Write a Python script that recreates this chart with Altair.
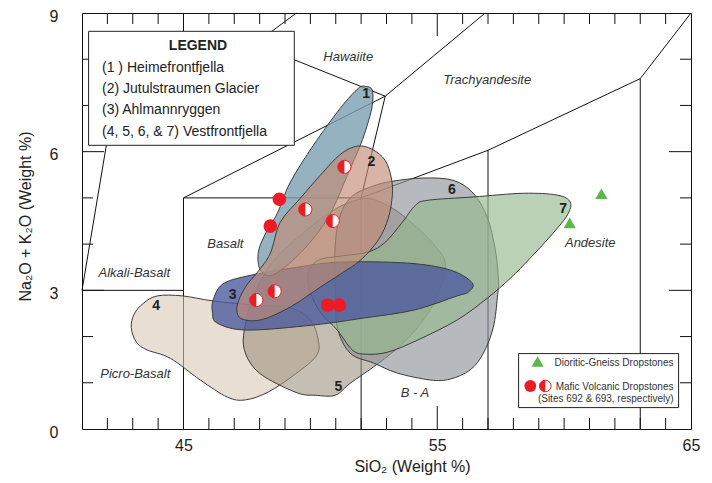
import altair as alt
import pandas as pd

FONT = "Liberation Sans"
W, H = 609, 416

# ---------------- data ----------------
# classification field boundaries (SiO2, Na2O+K2O)
seg_ids = ["A", "A", "B", "B", "C", "C", "D", "D", "E", "E", "F", "F", "G", "G",
           "H", "H", "I", "I", "J", "J", "K", "K", "K", "K", "L", "L", "M", "M"]
seg_x = [41, 45, 41, 42.07, 45, 45, 45, 52, 45, 52.95, 48.95, 52.95, 48.3, 49.45,
         52, 52.95, 52.95, 56.89, 52, 52, 52, 57, 63, 65, 57, 57, 63, 63]
seg_y = [3, 3, 3, 6.5, 0, 5, 5, 5, 5, 7.2, 8.08, 7.2, 8.53, 9.0,
         5, 7.2, 7.2, 9.0, 0, 5, 5, 6.03, 7.58, 9.0, 0, 6.03, 0, 7.58]

# field outlines (1..7)
shape1_x = [52.20, 52.44, 52.44, 52.24, 51.97, 51.46, 50.90, 50.31, 49.41, 48.50, 48.03, 47.95, 48.26, 48.70, 49.21, 50.12, 51.18, 51.89]
shape1_y = [7.41, 7.33, 7.00, 6.57, 6.14, 5.49, 4.78, 4.26, 3.70, 3.33, 3.44, 3.83, 4.26, 4.67, 5.34, 6.14, 6.94, 7.37]
shape2_x = [51.85, 52.44, 52.95, 53.19, 53.23, 53.07, 52.68, 51.97, 51.18, 50.39, 49.21, 48.03, 47.24, 47.12, 47.44, 47.91, 48.42, 48.81, 49.60, 50.39, 51.18]
shape2_y = [6.12, 6.05, 5.81, 5.43, 5.06, 4.56, 4.09, 3.65, 3.35, 3.07, 2.64, 2.36, 2.40, 2.68, 3.07, 3.39, 3.80, 4.47, 4.99, 5.49, 5.94]
shape3_x = [46.17, 46.53, 47.51, 49.49, 51.18, 53.82, 55.51, 56.38, 56.22, 55.79, 54.06, 52.09, 50.12, 47.51, 46.33, 46.14]
shape3_y = [2.79, 3.13, 3.31, 3.50, 3.61, 3.59, 3.44, 3.16, 2.96, 2.88, 2.57, 2.40, 2.25, 2.14, 2.29, 2.53]
shape4_x = [43.97, 44.95, 46.17, 47.83, 49.21, 50.00, 50.31, 50.23, 49.41, 48.34, 47.44, 46.73, 45.66, 44.48, 43.57, 43.14, 42.94, 43.06, 43.42]
shape4_y = [2.88, 2.88, 2.77, 2.68, 2.62, 2.36, 1.92, 1.58, 1.19, 0.80, 0.63, 0.69, 1.06, 1.53, 1.71, 1.88, 2.20, 2.49, 2.72]
shape5_x = [52.28, 52.95, 53.62, 54.53, 55.20, 55.32, 55.16, 54.84, 54.14, 53.35, 52.48, 51.57, 50.98, 50.19, 49.49, 48.22, 47.63, 47.36, 47.44, 47.71, 48.42, 49.60, 50.79, 51.57]
shape5_y = [4.99, 4.86, 4.63, 4.19, 3.76, 3.48, 3.11, 2.68, 2.14, 1.71, 1.34, 0.99, 0.73, 0.73, 0.78, 1.12, 1.43, 1.82, 2.25, 2.79, 3.55, 4.19, 4.69, 4.91]
shape6_x = [53.23, 52.44, 51.65, 51.18, 50.98, 50.98, 51.06, 51.57, 52.48, 53.43, 54.73, 55.51, 56.30, 56.82, 57.21, 57.37, 57.41, 57.29, 56.97, 56.42, 55.63, 54.45]
shape6_y = [5.36, 5.25, 5.04, 4.63, 3.98, 3.00, 2.20, 1.64, 1.43, 1.21, 1.06, 1.08, 1.28, 1.64, 2.20, 2.85, 3.22, 3.87, 4.58, 5.10, 5.38, 5.43]
shape7_x = [60.24, 59.73, 58.39, 56.42, 54.65, 54.14, 53.62, 52.95, 52.28, 51.18, 50.31, 49.92, 50.00, 50.39, 51.06, 51.65, 52.16, 53.03, 54.21, 55.79, 56.97, 57.88, 58.67, 59.57, 60.13]
shape7_y = [4.91, 5.06, 5.10, 5.02, 4.95, 4.84, 4.47, 4.04, 3.83, 3.74, 3.65, 3.39, 2.96, 2.53, 2.14, 1.71, 1.62, 1.66, 1.92, 2.36, 2.83, 3.26, 3.70, 4.24, 4.63]

# samples
site692_x = [48.78, 48.42, 50.68, 51.14]
site692_y = [4.97, 4.39, 2.68, 2.68]
site693_x = [51.34, 49.80, 50.88, 47.87, 48.59]
site693_y = [5.67, 4.75, 4.50, 2.79, 2.98]
gneiss_x = [61.47, 60.22]
gneiss_y = [5.09, 4.46]

# labels
field_names = ["Hawaiite", "Trachyandesite", "Basalt", "Alkali-Basalt", "Picro-Basalt", "B - A", "Andesite"]
field_name_x = [51.49, 56.97, 46.65, 43.06, 43.10, 54.12, 61.03]
field_name_y = [8.04, 7.54, 4.01, 3.37, 1.20, 0.77, 4.03]
num_labels = ["1", "2", "3", "4", "5", "6", "7"]
num_x = [52.20, 52.40, 46.94, 43.92, 51.10, 55.58, 59.96]
num_y = [7.24, 5.78, 2.90, 2.66, 0.91, 5.17, 4.77]

legend_title = "LEGEND"
legend_entries = ["(1 ) Heimefrontfjella", "(2) Jutulstraumen Glacier", "(3) Ahlmannryggen", "(4, 5, 6, & 7) Vestfrontfjella"]

x_tick_labels = [45, 55, 65]
y_tick_labels = [0, 3, 6, 9]
x_minor = [v for v in range(42, 65) if v not in (45, 55)]
x_major = [45, 55]
y_minor = [1, 2, 4, 5, 7, 8]
y_major = [3, 6]

# ---------------- chart ----------------
xs = alt.Scale(domain=[41, 65], nice=False, zero=False)
ys = alt.Scale(domain=[0, 9], nice=False, zero=False)

x_axis = alt.Axis(values=x_tick_labels, ticks=False, tickSize=0, domain=False, grid=False,
                  labelFont=FONT, labelFontSize=16, labelColor="#222", labelPadding=8,
                  labelFlush=False, title="SiO₂ (Weight %)", titleFont=FONT, titleFontSize=16,
                  titleFontWeight="normal", titleColor="#222", titleX=330, titleY=42,
                  titleBaseline="alphabetic", titleAlign="center")
y_axis = alt.Axis(values=y_tick_labels, ticks=False, tickSize=0, domain=False, grid=False,
                  labelFont=FONT, labelFontSize=16, labelColor="#222", labelPadding=24,
                  labelOffset=3, labelFlush=False, title="Na₂O + K₂O (Weight %)",
                  titleFont=FONT, titleFontSize=16, titleFontWeight="normal", titleColor="#222",
                  titleX=-52, titleY=203, titleAngle=270, titleBaseline="alphabetic",
                  titleAlign="center")

X = lambda f: alt.X(f, scale=xs, axis=x_axis)
Y = lambda f: alt.Y(f, scale=ys, axis=y_axis)

layers = []

seg_df = pd.DataFrame({"seg": seg_ids, "x": seg_x, "y": seg_y})
seg_df["i"] = range(len(seg_df))
layers.append(
    alt.Chart(seg_df).mark_line(color="#111", strokeWidth=1).encode(
        x=X("x:Q"), y=Y("y:Q"), detail="seg:N", order="i:Q")
)


def field(xv, yv, fill, op):
    df = pd.DataFrame({"x": xv, "y": yv})
    df["i"] = range(len(df))
    return alt.Chart(df).mark_line(
        fill=fill, fillOpacity=op, stroke="#3c3c3c", strokeWidth=1,
        interpolate="cardinal-closed").encode(x=X("x:Q"), y=Y("y:Q"), order="i:Q")


layers.append(field(shape4_x, shape4_y, "#d8c8b3", 0.6))
layers.append(field(shape5_x, shape5_y, "#9e927f", 0.6))
layers.append(field(shape6_x, shape6_y, "#8f9499", 0.65))
layers.append(field(shape7_x, shape7_y, "#97b98f", 0.65))
layers.append(field(shape3_x, shape3_y, "#4d5b9e", 0.8))
layers.append(field(shape1_x, shape1_y, "#7a9fb0", 0.8))
layers.append(field(shape2_x, shape2_y, "#c18c77", 0.65))


# tick marks (inside the frame)
def ticks_x(vals, length):
    df = pd.DataFrame({"v": vals})
    b = alt.Chart(df).mark_rule(color="#111", strokeWidth=1)
    return [b.encode(x=X("v:Q"), y=alt.value(H), y2=alt.value(H - length)),
            b.encode(x=X("v:Q"), y=alt.value(0), y2=alt.value(length))]


def ticks_y(vals, length):
    df = pd.DataFrame({"v": vals})
    b = alt.Chart(df).mark_rule(color="#111", strokeWidth=1)
    return [b.encode(y=Y("v:Q"), x=alt.value(0), x2=alt.value(length)),
            b.encode(y=Y("v:Q"), x=alt.value(W), x2=alt.value(W - length))]


layers += ticks_x(x_minor, 11) + ticks_x(x_major, 23) + ticks_y(y_minor, 11) + ticks_y(y_major, 22)

# field names and field numbers
fn_df = pd.DataFrame({"x": field_name_x, "y": field_name_y, "t": field_names})
layers.append(alt.Chart(fn_df).mark_text(font=FONT, fontSize=13, fontStyle="italic", color="#333").encode(
    x=X("x:Q"), y=Y("y:Q"), text="t:N"))
nn_df = pd.DataFrame({"x": num_x, "y": num_y, "t": num_labels})
layers.append(alt.Chart(nn_df).mark_text(font=FONT, fontSize=14, fontWeight="bold", color="#222").encode(
    x=X("x:Q"), y=Y("y:Q"), text="t:N"))

# sample points
HALF = "M0,-1A1,1,0,0,0,0,1Z"
s692 = pd.DataFrame({"x": site692_x, "y": site692_y})
s693 = pd.DataFrame({"x": site693_x, "y": site693_y})
gn = pd.DataFrame({"x": gneiss_x, "y": gneiss_y})
layers.append(alt.Chart(s692).mark_point(shape="circle", filled=True, fill="#ec1c24", opacity=1, size=185, strokeWidth=0).encode(x=X("x:Q"), y=Y("y:Q")))
layers.append(alt.Chart(s693).mark_point(shape="circle", filled=True, fill="white", stroke="#ec1c24", strokeWidth=1, opacity=1, size=175).encode(x=X("x:Q"), y=Y("y:Q")))
layers.append(alt.Chart(s693).mark_point(shape=HALF, filled=True, fill="#ec1c24", opacity=1, size=175, strokeWidth=0).encode(x=X("x:Q"), y=Y("y:Q")))
layers.append(alt.Chart(gn).mark_point(shape="triangle-up", filled=True, fill="#5cb848", opacity=1, size=150, strokeWidth=0).encode(x=X("x:Q"), y=Y("y:Q")))

# top-left legend box
one = pd.DataFrame({"d": [0]})
layers.append(alt.Chart(one).mark_rect(fill="white", stroke="#222", strokeWidth=1).encode(
    x=alt.value(6.6), x2=alt.value(212.3), y=alt.value(18.3), y2=alt.value(132.3)))
layers.append(alt.Chart(one).mark_text(text=legend_title, font=FONT, fontSize=14, fontWeight="bold",
                                       color="#222", align="center", baseline="middle").encode(
    x=alt.value(116), y=alt.value(33)))
for k, t in enumerate(legend_entries):
    layers.append(alt.Chart(one).mark_text(text=t, font=FONT, fontSize=14, color="#222",
                                           align="left", baseline="middle").encode(
        x=alt.value(20), y=alt.value(54.5 + k * 21.4)))

# bottom-right legend box
layers.append(alt.Chart(one).mark_rect(fill="white", stroke="#222", strokeWidth=1).encode(
    x=alt.value(436.6), x2=alt.value(596.6), y=alt.value(340.6), y2=alt.value(394.6)))
layers.append(alt.Chart(one).mark_point(shape="triangle-up", filled=True, fill="#5cb848", opacity=1, size=150, strokeWidth=0).encode(
    x=alt.value(455.6), y=alt.value(348.5)))
layers.append(alt.Chart(one).mark_point(shape="circle", filled=True, fill="#ec1c24", opacity=1, size=140, strokeWidth=0).encode(
    x=alt.value(448.3), y=alt.value(373)))
layers.append(alt.Chart(one).mark_point(shape="circle", filled=True, fill="white", stroke="#ec1c24", strokeWidth=1, opacity=1, size=135).encode(
    x=alt.value(463.3), y=alt.value(373)))
layers.append(alt.Chart(one).mark_point(shape=HALF, filled=True, fill="#ec1c24", opacity=1, size=135, strokeWidth=0).encode(
    x=alt.value(463.3), y=alt.value(373)))
for t, yy in [("Dioritic-Gneiss Dropstones", 350), ("Mafic Volcanic Dropstones", 374),
              ("(Sites 692 & 693, respectively)", 385.6)]:
    layers.append(alt.Chart(one).mark_text(text=t, font=FONT, fontSize=10, color="#333",
                                           align="right", baseline="middle").encode(
        x=alt.value(591.5), y=alt.value(yy)))

chart = alt.layer(*layers).properties(
    width=W, height=H,
    autosize=alt.AutoSizeParams(type="none"),
    padding={"left": 74, "top": 5, "right": 13, "bottom": 46},
    background="white",
).configure_view(stroke="#111", strokeWidth=1)

chart.save("out.html", embed_options={"renderer": "svg", "actions": False})
